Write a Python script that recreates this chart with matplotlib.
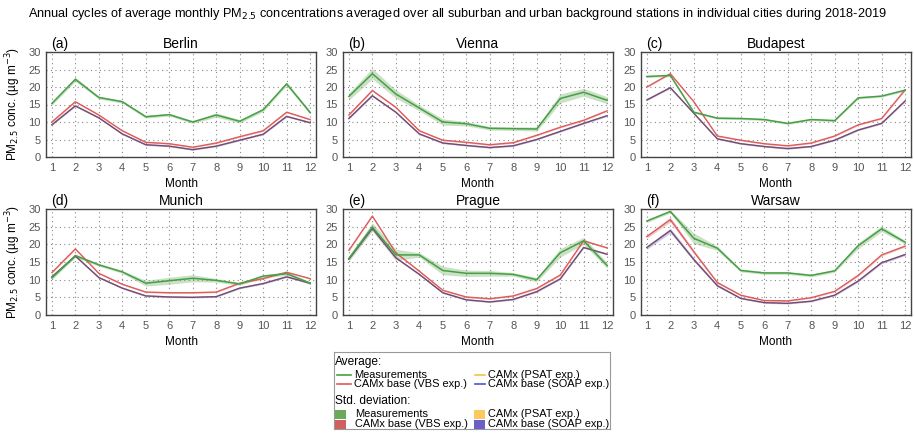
import matplotlib
matplotlib.use('Agg')
import matplotlib.pyplot as plt
import numpy as np
from matplotlib.patches import Rectangle

plt.rcParams['font.family'] = ['Liberation Sans', 'DejaVu Sans']

months = list(range(1, 13))
cities = ['Berlin', 'Vienna', 'Budapest', 'Munich', 'Prague', 'Warsaw']
panel_tags = ['(a)', '(b)', '(c)', '(d)', '(e)', '(f)']

# measurements (mean)
meas_berlin = [15.3, 22.2, 17.0, 15.8, 11.5, 12.1, 10.0, 12.0, 10.2, 13.5, 20.9, 12.7]
meas_vienna = [17.3, 23.8, 18.0, 14.0, 10.0, 9.5, 8.2, 8.1, 8.0, 16.7, 18.5, 16.2]
meas_budapest = [23.0, 23.3, 12.8, 11.1, 11.0, 10.7, 9.6, 10.7, 10.4, 16.9, 17.4, 19.1]
meas_munich = [10.5, 16.8, 14.2, 12.2, 9.0, 9.7, 10.4, 9.8, 8.8, 11.0, 11.7, 9.0]
meas_prague = [16.0, 24.9, 17.0, 17.0, 12.6, 11.8, 11.8, 11.5, 10.0, 17.6, 21.0, 14.0]
meas_warsaw = [26.6, 29.3, 21.7, 18.9, 12.6, 11.9, 11.9, 11.2, 12.5, 19.6, 24.4, 20.6]

# measurements (std. deviation)
meas_sd_berlin = [0.5, 0.6, 0.4, 0.4, 0.4, 0.4, 0.4, 0.6, 0.5, 0.5, 0.5, 0.5]
meas_sd_vienna = [1.0, 1.5, 1.2, 0.8, 0.9, 0.6, 0.5, 0.5, 0.6, 1.3, 1.1, 1.0]
meas_sd_budapest = [0.3, 0.3, 0.3, 0.3, 0.3, 0.3, 0.3, 0.3, 0.3, 0.3, 0.3, 0.3]
meas_sd_munich = [0.5, 0.5, 0.4, 0.4, 0.8, 1.0, 1.0, 0.5, 0.4, 0.4, 0.5, 0.4]
meas_sd_prague = [0.8, 1.2, 1.6, 0.6, 1.2, 0.9, 0.8, 0.5, 0.6, 1.2, 1.0, 0.8]
meas_sd_warsaw = [0.4, 0.4, 1.5, 0.6, 0.4, 0.4, 0.4, 0.4, 0.4, 0.8, 0.8, 0.5]

# CAMx base (VBS exp.)
vbs_berlin = [10.0, 15.8, 12.0, 7.5, 4.2, 3.8, 2.8, 4.0, 5.8, 7.5, 12.8, 10.7]
vbs_vienna = [12.0, 19.0, 14.2, 7.5, 4.8, 4.2, 3.5, 4.1, 6.2, 8.5, 10.5, 13.2]
vbs_budapest = [20.0, 23.8, 15.8, 6.0, 4.8, 3.8, 3.2, 4.0, 6.0, 9.2, 11.0, 19.2]
vbs_munich = [12.0, 18.7, 11.8, 8.7, 6.5, 6.3, 6.3, 6.5, 9.0, 10.3, 12.1, 10.3]
vbs_prague = [18.3, 28.0, 17.6, 12.4, 7.0, 5.1, 4.6, 5.4, 7.5, 11.3, 21.0, 19.0]
vbs_warsaw = [22.2, 27.0, 17.9, 9.2, 5.6, 4.1, 4.0, 4.9, 6.7, 11.2, 17.0, 19.5]

# CAMx base (SOAP exp.)
soap_berlin = [9.2, 14.6, 11.2, 6.6, 3.5, 3.1, 2.1, 3.1, 4.8, 6.5, 11.6, 9.8]
soap_vienna = [11.0, 17.5, 12.8, 6.6, 4.0, 3.3, 2.7, 3.2, 5.0, 7.3, 9.6, 11.8]
soap_budapest = [16.3, 19.8, 12.5, 5.2, 3.8, 3.0, 2.4, 3.0, 4.8, 7.7, 9.6, 16.0]
soap_munich = [10.8, 16.7, 10.6, 7.6, 5.4, 5.1, 5.0, 5.2, 7.6, 8.9, 10.8, 9.0]
soap_prague = [15.8, 24.5, 16.2, 11.5, 6.3, 4.3, 3.7, 4.4, 6.6, 10.2, 19.1, 17.2]
soap_warsaw = [19.1, 23.9, 15.7, 8.3, 4.7, 3.5, 3.3, 3.9, 5.6, 9.6, 14.8, 17.1]

# model std. deviation (small)
model_sd_berlin = [0.2] * 12
model_sd_vienna = [0.2] * 12
model_sd_budapest = [0.2] * 12
model_sd_munich = [0.2] * 12
model_sd_prague = [0.2] * 12
model_sd_warsaw = [0.5, 0.7, 0.5, 0.3, 0.2, 0.2, 0.2, 0.2, 0.2, 0.3, 0.3, 0.3]

meas = [meas_berlin, meas_vienna, meas_budapest, meas_munich, meas_prague, meas_warsaw]
meas_sd = [meas_sd_berlin, meas_sd_vienna, meas_sd_budapest, meas_sd_munich, meas_sd_prague, meas_sd_warsaw]
vbs = [vbs_berlin, vbs_vienna, vbs_budapest, vbs_munich, vbs_prague, vbs_warsaw]
soap = [soap_berlin, soap_vienna, soap_budapest, soap_munich, soap_prague, soap_warsaw]
model_sd = [model_sd_berlin, model_sd_vienna, model_sd_budapest, model_sd_munich, model_sd_prague, model_sd_warsaw]

c_meas = '#45a045'
c_vbs = '#e05a5a'
c_soap = '#6c4a90'
c_psat = '#f5c242'

W, H = 914, 433
fig = plt.figure(figsize=(W / 100, H / 100), dpi=100)

fig.text(0.5, 1 - 14 / H,
         'Annual cycles of average monthly PM$_{2.5}$ concentrations averaged over all suburban and urban background stations in individual cities during 2018-2019',
         ha='center', va='center', fontsize=9.2)

lefts = [46, 343, 641]
rows = [(52, 157), (209, 315)]

for i, city in enumerate(cities):
    r, c = divmod(i, 3)
    top, bot = rows[r]
    x0 = lefts[c]
    ax = fig.add_axes([x0 / W, 1 - bot / H, 270 / W, (bot - top) / H])
    m = np.array(meas[i])
    sd = np.array(meas_sd[i])
    v = np.array(vbs[i])
    s = np.array(soap[i])
    msd = np.array(model_sd[i])
    ax.fill_between(months, v - msd, v + msd, color='#d06060', alpha=0.3, lw=0)
    ax.fill_between(months, s - msd, s + msd, color='#6b5fc7', alpha=0.3, lw=0)
    ax.fill_between(months, m - sd, m + sd, color='#6aaa5a', alpha=0.35, lw=0)
    ax.plot(months, s, color=c_psat, lw=1.0)
    ax.plot(months, s, color=c_soap, lw=1.0)
    ax.plot(months, v, color=c_vbs, lw=1.0)
    ax.plot(months, m, color=c_meas, lw=1.1)
    ax.set_xlim(0.75, 12.25)
    ax.set_ylim(0, 30)
    ax.set_xticks(months)
    ax.set_yticks(range(0, 31, 5))
    ax.grid(True, linestyle=(0, (1, 3)), color='#888888', lw=0.8)
    ax.tick_params(length=0, labelsize=8, labelcolor='#555555', pad=4)
    for sp in ax.spines.values():
        sp.set_color('#444444')
        sp.set_linewidth(1.0)
    ax.set_title(city, fontsize=10, pad=3)
    ax.text(0.02, 1.01, panel_tags[i], transform=ax.transAxes, fontsize=10,
            ha='left', va='bottom')
    ax.set_xlabel('Month', fontsize=8.5, labelpad=4)
    if c == 0:
        ax.set_ylabel('PM$_{2.5}$ conc. (µg m$^{-3}$)', fontsize=8.5, labelpad=4)

# legend box
lax = fig.add_axes([334 / W, 1 - 429 / H, 276 / W, 77 / H])
lax.set_xlim(0, 276)
lax.set_ylim(77, 0)
lax.set_xticks([])
lax.set_yticks([])
for sp in lax.spines.values():
    sp.set_color('#999999')
    sp.set_linewidth(0.8)

fs = 7.9
lax.text(1, 10, 'Average:', fontsize=8.6, va='center')
lax.text(1, 49, 'Std. deviation:', fontsize=8.6, va='center')
line_items = [('Measurements', c_meas, 3, 22.5, 14), ('CAMx base (VBS exp.)', c_vbs, 3, 32, 14),
              ('CAMx (PSAT exp.)', c_psat, 141, 22.5, 10), ('CAMx base (SOAP exp.)', '#5a4fcf', 141, 32, 10)]
for lab, col, xx, yy, ln in line_items:
    lax.plot([xx, xx + ln], [yy, yy], color=col, lw=1.2)
    lax.text(xx + ln + 3, yy, lab, fontsize=fs, va='center')
patch_items = [('Measurements', '#6aaa5a', 1, 62, 20), ('CAMx base (VBS exp.)', '#d06060', 1, 72, 20),
               ('CAMx (PSAT exp.)', '#fcc95c', 140, 62, 14), ('CAMx base (SOAP exp.)', '#6b5fc7', 140, 72, 14)]
for lab, col, xx, yy, off in patch_items:
    lax.add_patch(Rectangle((xx, yy - 4.5), 11, 9, color=col, lw=0))
    lax.text(xx + off, yy, lab, fontsize=fs, va='center')

fig.savefig('out.png', dpi=100)
